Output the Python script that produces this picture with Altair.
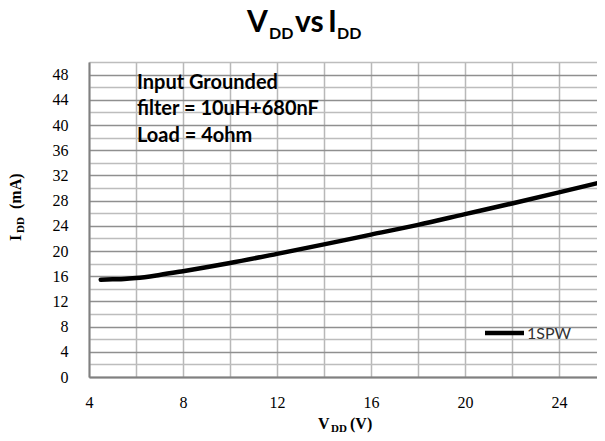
import altair as alt
import pandas as pd

# ---- data ----
vdd = [4.5, 5, 5.5, 6, 7, 8, 10, 12, 14, 16, 18, 20, 22, 24, 26]
idd = [15.45, 15.5, 15.55, 15.7, 16.2, 16.8, 18.1, 19.55, 21.05, 22.6, 24.15, 25.85, 27.55, 29.3, 31.1]
series_name = "1SPW"
x_grid = list(range(4, 26, 2))
y_grid = list(range(0, 51, 2))
notes = ["Input Grounded", "filter = 10uH+680nF", "Load = 4ohm"]

df = pd.DataFrame({"vdd": vdd, "idd": idd, "series": [series_name] * len(vdd)})

X0, Y0 = 89, 62  # page position of plot origin
SERIF = "Liberation Serif"


def label(text, x, y, size, weight="normal", font="Lato", angle=0, color="black"):
    return alt.Chart(pd.DataFrame({"t": [text]})).mark_text(
        font=font, fontSize=size, fontWeight=weight, align="left",
        baseline="alphabetic", angle=angle, color=color
    ).encode(text="t:N", x=alt.value(x - X0), y=alt.value(y - Y0))


xscale = alt.Scale(domain=[4, 25.617], nice=False, zero=False)
yscale = alt.Scale(domain=[0, 50], nice=False)

line = alt.Chart(df).mark_line(
    color="black", strokeWidth=4.5, interpolate="monotone", clip=True, strokeCap="round"
).encode(
    x=alt.X("vdd:Q", scale=xscale, axis=alt.Axis(
        values=x_grid, title=None, ticks=False, labelExpr="datum.value % 4 == 0 ? datum.label : ''",
        labelFont=SERIF, labelFontSize=16, labelFontWeight="normal", labelColor="black", labelPadding=17,
        labelOverlap=False, labelBound=False, labelFlush=False,
        grid=True, gridColor="#b8b8b8", gridWidth=1.5,
        domainColor="#808080", domainWidth=2)),
    y=alt.Y("idd:Q", scale=yscale, axis=alt.Axis(
        values=y_grid, title=None, ticks=False, labelExpr="datum.value % 4 == 0 ? datum.label : ''",
        labelFont=SERIF, labelFontSize=16, labelFontWeight="normal", labelColor="black", labelPadding=21,
        labelOverlap=False, labelBound=False,
        grid=True, gridWidth=1.5,
        gridColor={"condition": {"test": "datum.value % 4 === 0", "value": "#8f8f8f"}, "value": "#bdbdbd"},
        domainColor="#808080", domainWidth=2)),
)

layers = [line]

# title V_DD vs I_DD
layers += [
    label("V", 247, 32, 30, "bold"),
    label("DD", 269, 39, 16, "bold"),
    label("vs", 295, 32, 30, "bold"),
    label("I", 328, 32, 30, "bold"),
    label("DD", 337, 39, 16, "bold"),
]

# annotation text
for txt, yb in zip(notes, [89, 115, 142]):
    layers.append(label(txt, 137, yb, 20, "bold"))

# x axis title V_DD (V)
layers += [
    label("V", 318, 429, 16, "bold", SERIF),
    label("DD", 331, 432, 11, "bold", SERIF),
    label("(V)", 350, 429, 16, "bold", SERIF),
]

# y axis title I_DD (mA), rotated
layers += [
    label("I", 21, 241, 16, "bold", SERIF, 270),
    label("DD", 24, 233, 11, "bold", SERIF, 270),
    label("(mA)", 21, 209, 16, "bold", SERIF, 270),
]

# legend
legend_line = alt.Chart(pd.DataFrame({"s": [series_name]})).mark_rule(
    color="black", strokeWidth=4.5
).encode(x=alt.value(485 - X0), x2=alt.value(524 - X0), y=alt.value(333 - Y0))
layers.append(legend_line)
layers.append(label(series_name, 527, 339, 16, "normal", "Lato", 0, "#333333"))

chart = alt.layer(*layers).properties(
    width=508, height=315,
    autosize=alt.AutoSizeParams(type="none"),
    padding={"left": 81, "top": 54, "right": 0, "bottom": 56},
).configure_view(strokeWidth=0).configure_axis(labelFont=SERIF, labelFontSize=16)

chart.save("out.html", embed_options={"renderer": "svg", "actions": False})
